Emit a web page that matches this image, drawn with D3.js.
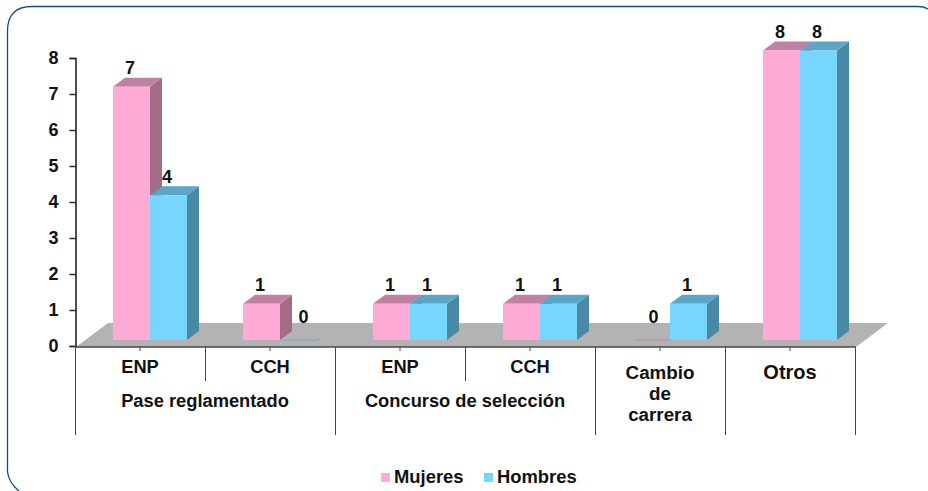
<!DOCTYPE html>
<html>
<head>
<meta charset="utf-8">
<script src="https://cdn.jsdelivr.net/npm/d3@7"></script>
<style>
html,body{margin:0;padding:0;background:#fff;overflow:hidden}
text{font-family:"Liberation Sans",Arial,sans-serif;font-weight:bold;fill:#111}
</style>
</head>
<body>
<svg id="chart" width="928" height="491"></svg>
<script>
const categories = ['ENP','CCH','ENP','CCH','Cambio de carrera','Otros']
const groups = [
  {label:'Pase reglamentado',from:0,to:2},
  {label:'Concurso de selección',from:2,to:4}
]
const seriesNames = ['Mujeres','Hombres']
const mujeres = [7,1,1,1,0,8]
const hombres = [4,0,1,1,1,8]
const yTicks = [0,1,2,3,4,5,6,7,8]

const colors = {
  Mujeres:{front:'#fdaad7',top:'#c081a3',side:'#a36b88'},
  Hombres:{front:'#76d6ff',top:'#5ba5c5',side:'#4a89a6'}
}
const depthX = 12, depthY = -9

const svg = d3.select('#chart')

// frame, runs off the page at the right and the bottom
svg.append('path')
  .attr('d','M928,9 Q924,6.5 918,6.5 L32,6.5 Q7.5,6.5 7.5,31 L7.5,472 Q9,483 19,491')
  .attr('fill','none').attr('stroke','#0f4c8a').attr('stroke-width',1.3)

const x0 = d3.scaleBand().domain(d3.range(categories.length)).range([75,855])
const x1 = d3.scaleBand().domain(seriesNames).range([38,112])
const yAxisScale = d3.scaleLinear().domain([0,8]).range([346,58])
const yBar = d3.scaleLinear().domain([0,8]).range([340,50.5])

// floor
const floor = d3.path()
floor.moveTo(x0.range()[0]+1,347)
floor.lineTo(108,323)
floor.lineTo(888,323)
floor.lineTo(x0.range()[1]+1,347)
floor.closePath()
svg.append('path').attr('d',floor.toString()).attr('fill','#b3b3b3')

// y axis
const yAxis = d3.axisLeft(yAxisScale).tickValues(yTicks).tickSize(6).tickPadding(11).tickFormat(d3.format('d'))
const gy = svg.append('g').attr('transform','translate(75.5,0)').call(yAxis)
gy.select('.domain').attr('stroke','#222').attr('stroke-width',1.6)
gy.selectAll('.tick line').attr('stroke','#222').attr('stroke-width',1.4)
gy.selectAll('.tick text').attr('font-size',18).attr('fill','#111').style('font-family','"Liberation Sans",Arial,sans-serif').style('font-weight','bold')

// x axis line and separators
svg.append('line').attr('x1',75).attr('x2',856).attr('y1',347).attr('y2',347).attr('stroke','#444').attr('stroke-width',1.4)
const bounds = d3.range(categories.length+1).map(i=>i<categories.length?x0(i):x0.range()[1])
svg.append('g').selectAll('line').data(bounds).join('line')
  .attr('x1',d=>d+.5).attr('x2',d=>d+.5).attr('y1',347)
  .attr('y2',(d,i)=>(i===1||i===3)?381:435)
  .attr('stroke','#444').attr('stroke-width',1)
svg.append('g').selectAll('line').data(categories).join('line')
  .attr('x1',(d,i)=>x0(i)+x0.bandwidth()/2).attr('x2',(d,i)=>x0(i)+x0.bandwidth()/2)
  .attr('y1',347).attr('y2',351).attr('stroke','#444')

// category labels, split on spaces for the long one
svg.append('g').selectAll('text').data(categories).join('text')
  .attr('text-anchor','middle').attr('font-size',(d,i)=>i===5?20:i===4?18.8:18.3)
  .attr('transform',(d,i)=>`translate(${x0(i)+x0.bandwidth()/2},${i===4||i===5?379:373})`)
  .selectAll('tspan').data(d=>d.split(' ')).join('tspan')
  .attr('x',0).attr('y',(d,i)=>i*21).text(d=>d)
svg.append('g').selectAll('text').data(groups).join('text')
  .attr('text-anchor','middle').attr('font-size',18.3).attr('y',407)
  .attr('x',d=>(x0(d.from)+x0(d.to))/2).text(d=>d.label)

// 3d bars
const face = pts => d3.line()(pts)+'Z'
const rows = seriesNames.flatMap((name,s)=>{
  const vals = s===0?mujeres:hombres
  return vals.map((v,i)=>({name,v,i,x:x0(i)+x1(name),w:x1.bandwidth()}))
})
const bars = svg.append('g').selectAll('g').data(rows).join('g')
bars.filter(d=>d.v>0).append('path').attr('fill',d=>colors[d.name].side)
  .attr('d',d=>face([[d.x+d.w,yBar(d.v)],[d.x+d.w+depthX,yBar(d.v)+depthY],[d.x+d.w+depthX,yBar(0)+depthY],[d.x+d.w,yBar(0)]]))
bars.filter(d=>d.v>0).append('path').attr('fill',d=>colors[d.name].top)
  .attr('d',d=>face([[d.x,yBar(d.v)],[d.x+depthX,yBar(d.v)+depthY],[d.x+d.w+depthX,yBar(d.v)+depthY],[d.x+d.w,yBar(d.v)]]))
bars.filter(d=>d.v>0).append('rect').attr('fill',d=>colors[d.name].front)
  .attr('x',d=>d.x).attr('y',d=>yBar(d.v)).attr('width',d=>d.w).attr('height',d=>yBar(0)-yBar(d.v))
// zero bars only leave a thin trace on the floor
bars.filter(d=>d.v===0).append('path').attr('fill','none').attr('stroke-width',.8)
  .attr('stroke',d=>d.name==='Hombres'?'#5ba5c5':'#c081a3')
  .attr('d',d=>d3.line()([[d.x+2,yBar(0)],[d.x+d.w+1,yBar(0)],[d.x+d.w+3,yBar(0)-2]]))

// value labels
svg.append('g').selectAll('text').data(rows).join('text')
  .attr('text-anchor','middle').attr('font-size',18)
  .attr('x',d=>d.x+d.w/2+(d.v===0?(d.name==='Hombres'?5:2):-1.5))
  .attr('y',d=>yBar(d.v)-(d.v===0?17:12.5))
  .text(d=>d.v)

// legend
const legend = svg.append('g').selectAll('g').data(seriesNames).join('g')
  .attr('transform',(d,i)=>`translate(${i===0?381:484},473)`)
legend.append('rect').attr('width',9).attr('height',9).attr('fill',d=>colors[d].front)
legend.append('text').attr('x',13).attr('y',9.5).attr('font-size',18.4).text(d=>d)
</script>
</body>
</html>
